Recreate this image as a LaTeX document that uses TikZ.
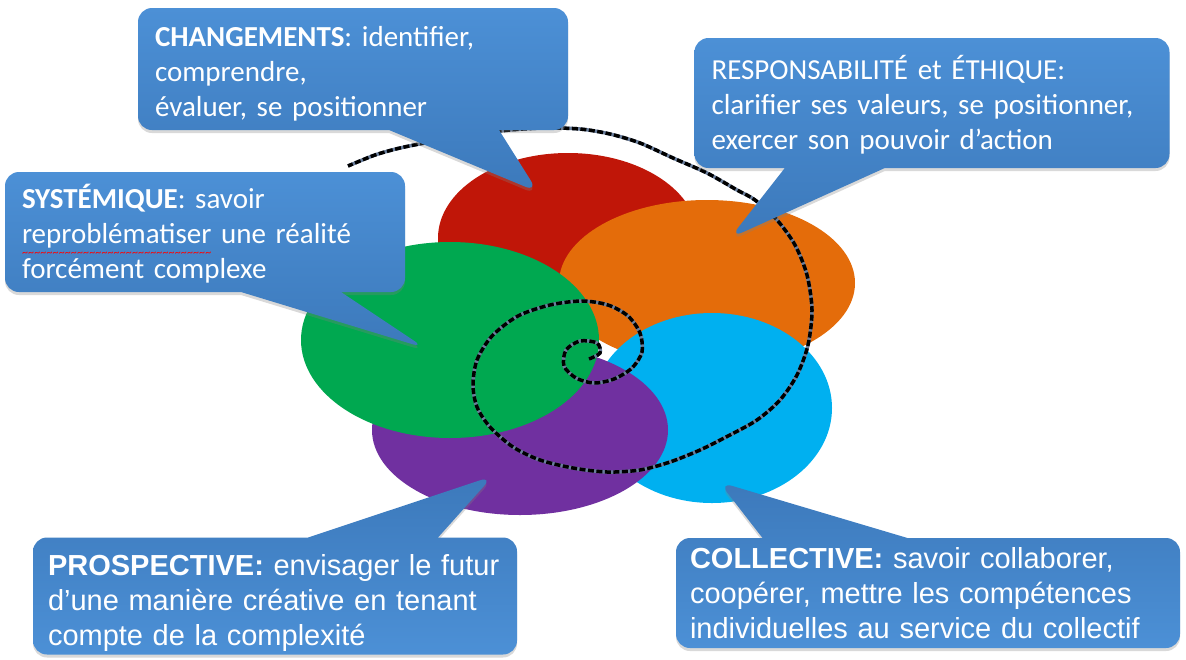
\documentclass[tikz,border=0pt]{standalone}
\usepackage{fontspec}
\usetikzlibrary{shapes.geometric}
\usetikzlibrary{shapes.callouts}
\usetikzlibrary{shadows}

\newfontfamily\calibri{Carlito}
\newfontfamily\arial{Liberation Sans}

% red wavy underline of a spell checker
\newcommand\redwave[1]{\leavevmode\setbox0\hbox{#1}\rlap{\textcolor{red}{\raisebox{-12.5pt}[0pt][0pt]{\hbox to \wd0{%
    \fontsize{12}{12}\selectfont\xleaders\hbox{\char`\~}\hfill}}}}#1}
% taller first line, pushes the text down a little
\newcommand\topstrut[1]{\rule{0pt}{#1}}

\definecolor{ovred}{RGB}{192,22,8}
\definecolor{ovorange}{RGB}{228,108,10}
\definecolor{ovgreen}{RGB}{0,168,80}
\definecolor{ovpurple}{RGB}{112,48,160}
\definecolor{ovcyan}{RGB}{0,176,240}
\definecolor{bubblelight}{RGB}{76,144,214}
\definecolor{bubbledark}{RGB}{60,121,187}
\definecolor{spiralgray}{RGB}{105,125,155}

\tikzset{
    oval/.style={ellipse,inner sep=0pt,draw=none},
    bubble/.style={rectangle callout,rounded corners=14pt,inner sep=0pt,align=left,
        text=white,drop shadow={opacity=0.3,shadow xshift=0pt,shadow yshift=-3pt}},
    bubbledown/.style={bubble,top color=bubblelight,bottom color=bubbledark},
    bubbleup/.style={bubble,top color=bubbledark,bottom color=bubblelight},
    calibritext/.style={font=\calibri\fontsize{29}{35}\selectfont},
    arialtext/.style={font=\arial\fontsize{29}{35}\selectfont},
    spiralline/.style={draw=black,line width=3.5pt,dash pattern=on 6pt off 2.5pt,
        preaction={draw=spiralgray,line width=3.5pt,solid}}
}

\begin{document}
\begin{tikzpicture}[x=1pt,y=-1pt]
    \useasboundingbox (0,0) rectangle (1186,659);

    % the five ovals
    \node[oval,fill=ovred,minimum width=260pt,minimum height=170pt] (changes) at (568,238) {};
    \node[oval,fill=ovorange,minimum width=296pt,minimum height=166pt] (ethics) at (707,283) {};
    \node[oval,fill=ovcyan,minimum width=240pt,minimum height=190pt] (group) at (712,408) {};
    \node[oval,fill=ovpurple,minimum width=296pt,minimum height=170pt] (future) at (520,430) {};
    \node[oval,fill=ovgreen,minimum width=298pt,minimum height=196pt] (system) at (450,340) {};

    % spiral
    \path[spiralline] plot[smooth] coordinates {(589,359) (600,353) (597,343) (580,341) (566,350)
        (564,366) (576,378) (594,383) (614,379) (632,368) (642,352) (640,333) (628,316) (608,305)
        (582,301) (550,305) (518,316) (492,336) (477,360) (473,385) (477,407) (490,427) (513,447)
        (540,460) (573,468) (607,472) (640,470) (670,462) (700,450) (728,436) (757,420) (780,400)
        (797,375) (808,345) (812,310) (807,275) (795,245) (777,220) (755,200) (737,190) (707,173)
        (673,158) (640,143) (610,134) (580,129) (545,128) (510,130) (470,135) (430,142) (400,148)
        (375,155) (348,166)};

    % callouts
    \node[bubbledown,calibritext,minimum width=430pt,minimum height=122pt,text width=396pt,
        callout absolute pointer={(538,192)},callout pointer width=110pt] (changesbox) at (353,69)
        {\topstrut{30pt}\textbf{CHANGEMENTS}: identifier,\\comprendre,\\évaluer, se positionner};

    \node[bubbledown,calibritext,minimum width=400pt,minimum height=120pt,text width=366pt,
        callout absolute pointer={(425,348)},callout pointer width=100pt] (systembox) at (205,232)
        {\topstrut{28pt}\textbf{SYSTÉMIQUE}: savoir\\\redwave{reproblématiser} une réalité\\forcément complexe};

    \node[bubbledown,calibritext,minimum width=475pt,minimum height=130pt,text width=441pt,
        callout absolute pointer={(730,238)},callout pointer width=100pt] (ethicsbox) at (932,103)
        {\topstrut{28pt}RESPONSABILITÉ et ÉTHIQUE:\\clarifier ses valeurs, se positionner,\\exercer son pouvoir d’action};

    \node[bubbleup,arialtext,minimum width=484pt,minimum height=117pt,text width=454pt,
        callout absolute pointer={(493,476)},callout pointer width=130pt] (futurebox) at (275,596)
        {\topstrut{36pt}\textbf{PROSPECTIVE:} envisager le futur\\d’une manière créative en tenant\\compte de la complexité};

    \node[bubbleup,arialtext,minimum width=504pt,minimum height=110pt,text width=476pt,
        callout absolute pointer={(719,482)},callout pointer width=145pt] (groupbox) at (928,593)
        {\textbf{COLLECTIVE:} savoir collaborer,\\coopérer, mettre les compétences\\individuelles au service du collectif};
\end{tikzpicture}
\end{document}
